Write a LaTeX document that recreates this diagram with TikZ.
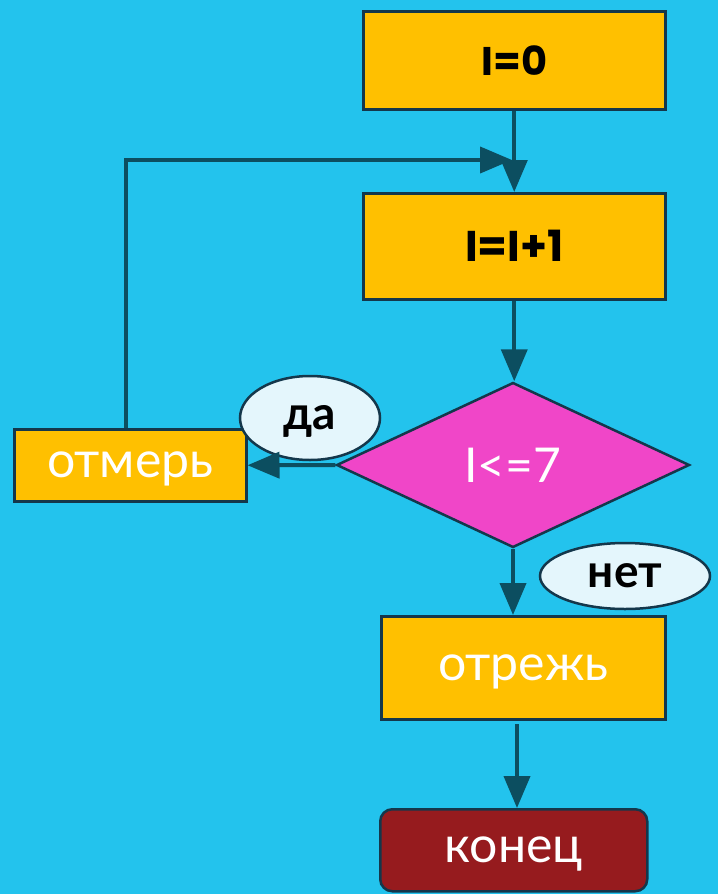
\documentclass[tikz,border=0pt]{standalone}
\usepackage{fontspec}
\setmainfont{Lato}
\newfontfamily\latinfont{Poppins}
\usetikzlibrary{arrows.meta,shapes.geometric}
\definecolor{bgc}{RGB}{35,195,237}
\definecolor{boxc}{RGB}{255,192,0}
\definecolor{edgec}{RGB}{20,55,75}
\definecolor{arrc}{RGB}{12,78,96}
\definecolor{diac}{RGB}{240,70,200}
\definecolor{ellc}{RGB}{228,246,252}
\definecolor{endc}{RGB}{150,27,30}
\tikzset{
  stepbox/.style={draw=edgec, line width=2.5pt, fill=boxc, inner sep=0pt, anchor=north west},
  lowtext/.style={text=white, font=\fontsize{50}{54}\selectfont, text height=25pt, text depth=0pt},
  lbl/.style={draw=edgec, line width=2.5pt, fill=ellc, ellipse, inner sep=0pt, font=\fontsize{46}{50}\selectfont\bfseries, text height=23pt, text depth=0pt},
  conn/.style={draw=arrc, line width=4pt, -{Triangle[width=26pt,length=32pt]}},
}
\begin{document}
\begin{tikzpicture}[x=1pt,y=-1pt]
\useasboundingbox (0,0) rectangle (718,894);
\fill[bgc] (0,0) rectangle (718,894);
\node[stepbox, minimum width=302pt, minimum height=98pt, font=\latinfont\fontsize{40}{44}\selectfont\bfseries] (init) at (362,10) {I=0};
\node[stepbox, minimum width=302pt, minimum height=106pt, font=\latinfont\fontsize{43}{46}\selectfont\bfseries] (inc) at (362,192) {I=I+1};
\node[draw=edgec, line width=2.5pt, fill=diac, diamond, aspect=2.14, minimum width=353pt, minimum height=165pt, inner sep=0pt, text=white, font=\fontsize{48}{52}\selectfont] (cond) at (513,465) {I<=7};
\node[stepbox, minimum width=232pt, minimum height=72pt, lowtext] (mark) at (13,428) {отмерь};
\node[stepbox, minimum width=284pt, minimum height=103pt, lowtext] (cut) at (380,615) {отрежь};
\node[draw=edgec, line width=2.5pt, fill=endc, rounded corners=12pt, minimum width=267pt, minimum height=82pt, inner sep=0pt, anchor=north west, lowtext] (fin) at (379,808) {конец};
\node[lbl, minimum width=140pt, minimum height=84pt] (yes) at (310,418) {да};
\node[lbl, minimum width=170pt, minimum height=66pt] (no) at (625,576) {нет};
\coordinate (join) at (512,160);
\coordinate (corner) at (126,160);
\coordinate (cutout) at (517,724);
\coordinate (finin) at (517,808);
\draw[conn] (init.south) -- (inc.north);
\draw[conn] (inc.south) -- (inc.south |- cond.north);
\draw[conn] (cond.west) -- (mark.east);
\draw[conn] (cond.south) -- (cond.south |- cut.north);
\draw[conn] (cutout) -- (finin);
\draw[conn] (mark.north -| corner) -- (corner) -- (join);
\end{tikzpicture}
\end{document}
